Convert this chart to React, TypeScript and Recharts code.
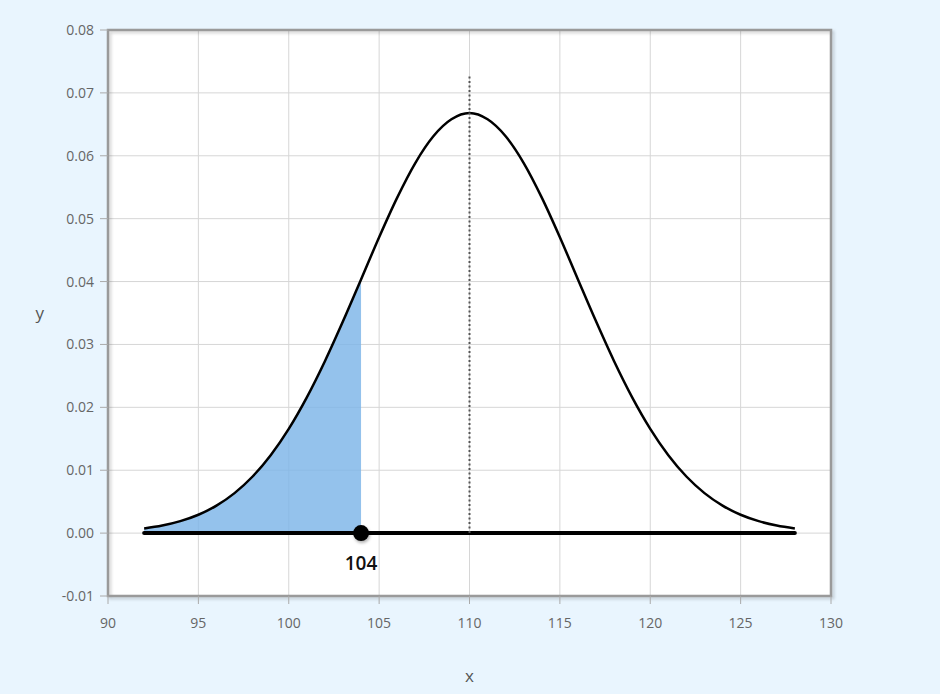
import {
  ComposedChart,
  Area,
  Line,
  Scatter,
  XAxis,
  YAxis,
  CartesianGrid,
  ReferenceLine,
  ReferenceArea,
} from 'recharts'

// normal curve (mean 110), one point per x unit
const xs = [
  92, 93, 94, 95, 96, 97, 98, 99, 100, 101, 102, 103, 104, 105, 106, 107, 108, 109, 110,
  111, 112, 113, 114, 115, 116, 117, 118, 119, 120, 121, 122, 123, 124, 125, 126, 127, 128,
]
const density = [
  0.00074, 0.0012, 0.0019, 0.00292, 0.00437, 0.00636, 0.009, 0.01239, 0.01658, 0.02159,
  0.02733, 0.03367, 0.04033, 0.04705, 0.05335, 0.05885, 0.0631, 0.0658, 0.0668, 0.0658,
  0.0631, 0.05885, 0.05335, 0.04705, 0.04033, 0.03367, 0.02733, 0.02159, 0.01658, 0.01239,
  0.009, 0.00636, 0.00437, 0.00292, 0.0019, 0.0012, 0.00074,
]
const cutoff = 104
const mean = 110
const meanLineTop = 0.073

const xTicks = [90, 95, 100, 105, 110, 115, 120, 125, 130]
const yTicks = [-0.01, 0, 0.01, 0.02, 0.03, 0.04, 0.05, 0.06, 0.07, 0.08]

const chartData = xs.map((x, i) => ({
  x,
  y: density[i],
  shade: x <= cutoff ? density[i] : null,
}))
const pointData = [{ x: cutoff, y: 0 }]

const tickStyle = { fontSize: 14, fill: '#666', fontFamily: '"Open Sans", sans-serif' }

function PointShape(props: any) {
  const { cx, cy, payload } = props
  return (
    <g>
      <circle
        cx={cx}
        cy={cy}
        r={8}
        fill="#000"
        style={{ filter: 'drop-shadow(1px 2px 1.5px rgba(0,0,0,0.3))' }}
      />
      <text
        x={cx}
        y={cy + 37}
        textAnchor="middle"
        fontSize={19}
        fontWeight={600}
        fontFamily='"Open Sans", sans-serif'
        fill="#111"
      >
        {payload.x}
      </text>
    </g>
  )
}

function FrameShape(props: any) {
  const { x, y, width, height } = props
  return (
    <rect
      x={x}
      y={y}
      width={width}
      height={height}
      fill="none"
      stroke="#9a9a9a"
      strokeWidth={2.5}
      style={{ filter: 'drop-shadow(2px 2px 1.5px rgba(0,0,0,0.18))' }}
    />
  )
}

export default function App() {
  return (
    <div
      style={{
        position: 'absolute',
        left: 0,
        top: 0,
        width: 940,
        height: 694,
        background: '#e9f5fe',
      }}
    >
      <ComposedChart
        width={940}
        height={694}
        data={chartData}
        margin={{ top: 30, right: 109, bottom: 38, left: 48 }}
      >
        <CartesianGrid stroke="#d6d6d6" fill="#fff" />
        <XAxis
          dataKey="x"
          type="number"
          domain={[90, 130]}
          ticks={xTicks}
          allowDataOverflow
          height={60}
          tick={tickStyle}
          tickSize={8}
          tickMargin={14}
          tickLine={{ stroke: '#aaa' }}
          axisLine={false}
          label={{
            value: 'x',
            position: 'bottom',
            offset: 14,
            style: { fontSize: 17, fill: '#555', fontFamily: '"Open Sans", sans-serif' },
          }}
        />
        <YAxis
          type="number"
          domain={[-0.01, 0.08]}
          ticks={yTicks}
          allowDataOverflow
          width={60}
          tick={tickStyle}
          tickSize={8}
          tickMargin={6}
          tickLine={{ stroke: '#aaa' }}
          axisLine={false}
          tickFormatter={(v: number) => v.toFixed(2)}
          label={{
            value: 'y',
            position: 'left',
            offset: 4,
            style: { fontSize: 17, fill: '#555', fontFamily: '"Open Sans", sans-serif' },
          }}
        />
        <Area
          type="monotone"
          dataKey="shade"
          baseValue={0}
          stroke="none"
          fill="#7db5e8"
          fillOpacity={0.82}
          isAnimationActive={false}
        />
        <Line
          type="monotone"
          dataKey="y"
          stroke="#000"
          strokeWidth={2.5}
          dot={false}
          activeDot={false}
          isAnimationActive={false}
        />
        <ReferenceLine
          segment={[
            { x: xs[0], y: 0 },
            { x: xs[xs.length - 1], y: 0 },
          ]}
          stroke="#000"
          strokeWidth={4}
          strokeLinecap="round"
        />
        <ReferenceLine
          segment={[
            { x: mean, y: 0 },
            { x: mean, y: meanLineTop },
          ]}
          stroke="#555"
          strokeWidth={2}
          strokeDasharray="2 2.5"
        />
        <ReferenceArea
          x1={90}
          x2={130}
          y1={-0.01}
          y2={0.08}
          shape={FrameShape}
        />
        <Scatter
          data={pointData}
          dataKey="y"
          shape={PointShape}
          isAnimationActive={false}
        />
      </ComposedChart>
    </div>
  )
}
